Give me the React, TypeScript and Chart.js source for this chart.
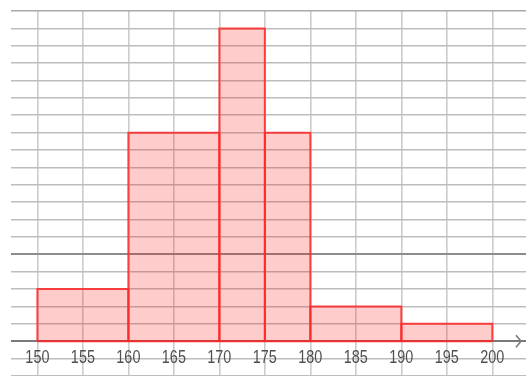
import React, { useEffect, useRef } from "react";
import { Chart, registerables } from "chart.js";

Chart.register(...registerables);

// Histogram bins (height in cm) and frequency-density heights
const binStarts = [150, 160, 170, 175, 180, 190];
const binEnds = [160, 170, 175, 180, 190, 200];
const heights = [3, 12, 18, 12, 2, 1];
const xTickValues = [150, 155, 160, 165, 170, 175, 180, 185, 190, 195, 200];
const yMin = -2;
const yMax = 19;
const xMin = 147.1;
const xMax = 203.7;

const overlayPlugin = {
  id: "overlay",
  afterDraw(chart: any) {
    const { ctx, chartArea, scales } = chart;
    const y0 = scales.y.getPixelForValue(0);
    const xEnd = chartArea.right - 5;
    ctx.save();
    // arrow head on x axis
    ctx.strokeStyle = "#7a7a7a";
    ctx.lineWidth = 1.6;
    ctx.beginPath();
    ctx.moveTo(xEnd - 5, y0 - 6);
    ctx.lineTo(xEnd, y0);
    ctx.lineTo(xEnd - 5, y0 + 6);
    ctx.stroke();
    // condensed tick labels
    ctx.fillStyle = "#505050";
    ctx.font = "18px Arial, 'Liberation Sans', sans-serif";
    ctx.textAlign = "center";
    ctx.textBaseline = "middle";
    const ly = scales.y.getPixelForValue(-1) - 1;
    xTickValues.forEach((v) => {
      const px = scales.x.getPixelForValue(v);
      ctx.save();
      ctx.translate(px, ly);
      ctx.scale(0.8, 1);
      ctx.fillText(String(v), 0, 0);
      ctx.restore();
    });
    ctx.restore();
  },
};

export default function App() {
  const ref = useRef<HTMLCanvasElement | null>(null);

  useEffect(() => {
    if (!ref.current) return;
    const barSets = binStarts.map((lo, i) => {
      const hi = binEnds[i];
      const h = heights[i];
      return {
        label: `${lo}-${hi}`,
        data: [
          { x: lo, y: 0 },
          { x: lo, y: h },
          { x: hi, y: h },
          { x: hi, y: 0 },
        ],
        borderColor: "rgba(255,40,40,0.85)",
        borderWidth: 2,
        backgroundColor: "rgba(255,0,0,0.2)",
        fill: "origin",
        pointRadius: 0,
        tension: 0,
      };
    });
    const baseLine = {
      label: "base",
      data: [
        { x: binStarts[0], y: 0 },
        { x: binEnds[binEnds.length - 1], y: 0 },
      ],
      borderColor: "rgba(255,40,40,0.85)",
      borderWidth: 2,
      fill: false,
      pointRadius: 0,
    };

    const chart = new Chart(ref.current, {
      type: "line",
      data: { datasets: [...barSets, baseLine] },
      plugins: [overlayPlugin],
      options: {
        animation: false,
        responsive: false,
        layout: { padding: { left: 11, top: 11, right: 0, bottom: 0 } },
        plugins: {
          legend: { display: false },
          tooltip: { enabled: false },
        },
        scales: {
          x: {
            type: "linear",
            min: xMin,
            max: xMax,
            position: { y: 0 } as any,
            afterBuildTicks: (scale: any) => {
              scale.ticks = xTickValues.map((v) => ({ value: v }));
            },
            ticks: { display: false },
            grid: {
              drawTicks: false,
              color: "rgba(170,170,170,0.6)",
              lineWidth: 1.6,
            },
            border: { display: false },
          },
          y: {
            type: "linear",
            min: yMin,
            max: yMax,
            afterBuildTicks: (scale: any) => {
              const t = [];
              for (let v = yMin; v <= yMax; v++) t.push({ value: v });
              scale.ticks = t;
            },
            ticks: { display: false },
            grid: {
              drawTicks: false,
              color: (c: any) => {
                const v = c.tick ? c.tick.value : 0;
                if (v === 0) return "#7a7a7a";
                if (v === 5) return "#8c8c8c";
                if (v === yMax) return "#a8a8a8";
                return "#bdbdbd";
              },
              lineWidth: (c: any) => {
                const v = c.tick ? c.tick.value : 0;
                if (v === 0 || v === 5) return 2;
                return 1.6;
              },
            },
            border: { display: false },
          },
        },
      },
    });
    return () => chart.destroy();
  }, []);

  return (
    <div style={{ position: "fixed", left: 0, top: 0, width: 526, height: 376, background: "#fff" }}>
      <canvas ref={ref} width={526} height={376} style={{ width: 526, height: 376, display: "block" }} />
    </div>
  );
}
